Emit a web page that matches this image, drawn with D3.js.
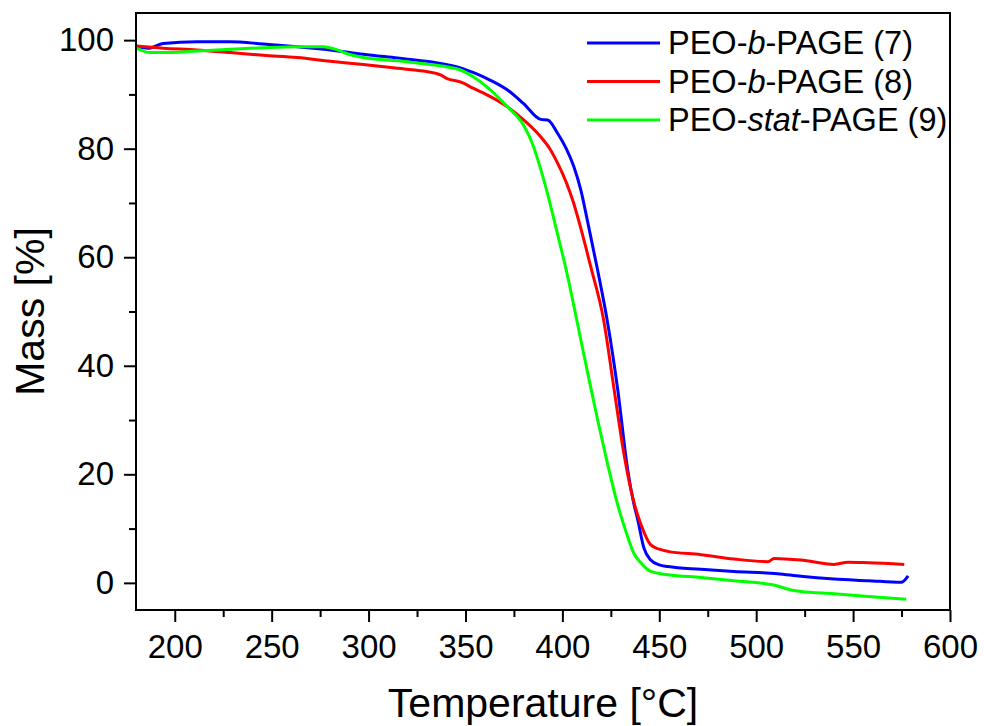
<!DOCTYPE html>
<html>
<head>
<meta charset="utf-8">
<script src="https://cdn.jsdelivr.net/npm/d3@7"></script>
<style>
  body { margin: 0; background: #fff; }
  svg { font-family: "Liberation Sans", Arial, sans-serif; }
</style>
</head>
<body>
<svg id="chart" width="984" height="726"></svg>
<script>
// TGA curves, [temperature °C, mass %]
var peoB7 = [
  [180.4, 98.9], [186.2, 98.5], [194, 99.4], [211.5, 99.7], [228.6, 99.7],
  [245.6, 99.3], [263.2, 98.8], [280.3, 98.2], [297.3, 97.4], [314.9, 96.7],
  [331.9, 96.0], [340, 95.5], [347.4, 94.9], [354.2, 94.0], [362.9, 92.6],
  [371.7, 90.8], [380, 88.3], [388.8, 85.4], [392.4, 85.3], [397.6, 82.8],
  [402, 80.0], [405.8, 76.8], [409.5, 72.4], [413, 66.6], [418.2, 57.6],
  [423.4, 47.8], [428.6, 35.5], [433.7, 20.8], [436.8, 14.7], [438.9, 11.6],
  [442, 6.5], [445.6, 4.2], [450, 3.3], [454.4, 3.0], [471.4, 2.5],
  [488.5, 2.1], [511, 1.7], [523.1, 1.2], [540.2, 0.7], [557.8, 0.4],
  [574.8, 0.1], [578.4, 1.3]
];
var peoB8 = [
  [180.4, 98.9], [194, 98.5], [211.5, 98.2], [228.6, 97.7], [245.6, 97.2],
  [263.2, 96.8], [280.3, 96.1], [297.3, 95.5], [314.9, 94.8], [328.3, 94.3],
  [337.1, 93.6], [340.5, 92.9], [347.4, 92.3], [354.2, 91.1], [362.9, 89.6],
  [371.7, 87.7], [380, 85.3], [388.8, 82.2], [393.5, 80.0], [397.6, 77.3],
  [402, 73.8], [405.8, 70.0], [409, 66.0], [414.6, 58.3], [421.3, 48.4],
  [426.5, 36.1], [431.7, 23.9], [436.8, 15.0], [440.5, 10.8], [445.6, 7.0],
  [450, 6.2], [454.4, 5.8], [471.4, 5.2], [488.5, 4.4], [506.1, 3.9],
  [509.2, 4.5], [523.1, 4.2], [540.2, 3.4], [547.4, 3.8], [557.8, 3.7],
  [576.4, 3.4]
];
var peoStat9 = [
  [180.4, 98.5], [187.2, 97.7], [194, 97.7], [211.5, 98.0], [228.6, 98.3],
  [245.6, 98.6], [263.2, 98.8], [276.6, 98.8], [283.9, 98.2], [289.0, 97.5],
  [300.9, 96.6], [314.9, 96.2], [331.9, 95.5], [340, 95.1], [347.4, 94.5],
  [354.2, 93.2], [362.9, 90.8], [371.7, 87.7], [380, 84.3], [385, 80.5],
  [389, 76.0], [393, 70.8], [397, 65.0], [402.7, 56.5], [407.9, 47.6],
  [413.1, 38.6], [418.2, 30.0], [423.4, 21.8], [428.6, 14.3], [433.7, 8.5],
  [436.8, 5.5], [440.5, 3.7], [445.6, 2.1], [454.4, 1.5], [471.4, 1.0],
  [488.5, 0.4], [509.2, -0.4], [518, -1.3], [523.1, -1.6], [540.2, -2.0],
  [557.8, -2.5], [577.4, -3.0]
];

var xMajor = [200, 250, 300, 350, 400, 450, 500, 550, 600];
var xMinor = [225, 275, 325, 375, 425, 475, 525, 575];
var yMajor = [0, 20, 40, 60, 80, 100];
var yMinor = [10, 30, 50, 70, 90];

var seriesNames = ["PEO-b-PAGE (7)", "PEO-b-PAGE (8)", "PEO-stat-PAGE (9)"];
var seriesColors = ["#0000ff", "#ff0000", "#00ff00"];
var seriesData = [peoB7, peoB8, peoStat9];

var svg = d3.select("#chart");
var pLeft = 136, pRight = 950, pTop = 13, pBottom = 610;

var x = d3.scaleLinear().domain([180, 600]).range([pLeft, pRight]);
var y = d3.scaleLinear().domain([-5, 105]).range([pBottom, pTop]);

// minor ticks first, then majors with labels
svg.append("g")
  .attr("transform", "translate(0," + pBottom + ")")
  .call(d3.axisBottom(x).tickValues(xMinor).tickSize(7).tickFormat(""))
  .call(function (g) { g.select(".domain").remove(); });
svg.append("g")
  .attr("transform", "translate(" + pLeft + ",0)")
  .call(d3.axisLeft(y).tickValues(yMinor).tickSize(7).tickFormat(""))
  .call(function (g) { g.select(".domain").remove(); });

var xAxis = svg.append("g")
  .attr("transform", "translate(0," + pBottom + ")")
  .call(d3.axisBottom(x).tickValues(xMajor).tickSize(12).tickPadding(13).tickFormat(d3.format("d")));
var yAxis = svg.append("g")
  .attr("transform", "translate(" + pLeft + ",0)")
  .call(d3.axisLeft(y).tickValues(yMajor).tickSize(12).tickPadding(10).tickFormat(d3.format("d")));

[xAxis, yAxis].forEach(function (g) {
  g.select(".domain").remove();
  g.attr("font-size", 33).attr("font-family", "Liberation Sans, Arial, sans-serif");
  g.selectAll("text").attr("fill", "#000");
});
svg.selectAll(".tick line").attr("stroke", "#000").attr("stroke-width", 2);

// curves
var line = d3.line()
  .x(function (d) { return x(d[0]); })
  .y(function (d) { return y(d[1]); })
  .curve(d3.curveMonotoneX);

seriesData.forEach(function (data, i) {
  svg.append("path")
    .datum(data)
    .attr("d", line)
    .attr("fill", "none")
    .attr("stroke", seriesColors[i])
    .attr("stroke-width", 3)
    .attr("stroke-linejoin", "round");
});

// frame
svg.append("rect")
  .attr("x", pLeft)
  .attr("y", pTop)
  .attr("width", pRight - pLeft)
  .attr("height", pBottom - pTop)
  .attr("fill", "none")
  .attr("stroke", "#000")
  .attr("stroke-width", 2);

// axis titles
svg.append("text")
  .attr("x", (pLeft + pRight) / 2)
  .attr("y", 717)
  .attr("text-anchor", "middle")
  .attr("font-size", 41)
  .text("Temperature [°C]");
svg.append("text")
  .attr("transform", "translate(44," + (pTop + pBottom) / 2 + ") rotate(-90)")
  .attr("text-anchor", "middle")
  .attr("font-size", 41)
  .text("Mass [%]");

// legend, italic middle part of each name
var legend = svg.append("g").attr("transform", "translate(587,43)");
seriesNames.forEach(function (name, i) {
  var row = legend.append("g").attr("transform", "translate(0," + i * 38.5 + ")");
  row.append("line")
    .attr("x1", 0).attr("x2", 73)
    .attr("stroke", seriesColors[i])
    .attr("stroke-width", 3);
  var parts = name.split("-");
  var t = row.append("text")
    .attr("x", 81)
    .attr("y", 11)
    .attr("font-size", 32.5);
  t.append("tspan").text(parts[0] + "-");
  t.append("tspan").attr("font-style", "italic").text(parts[1]);
  t.append("tspan").text("-" + parts[2]);
});
</script>
</body>
</html>
